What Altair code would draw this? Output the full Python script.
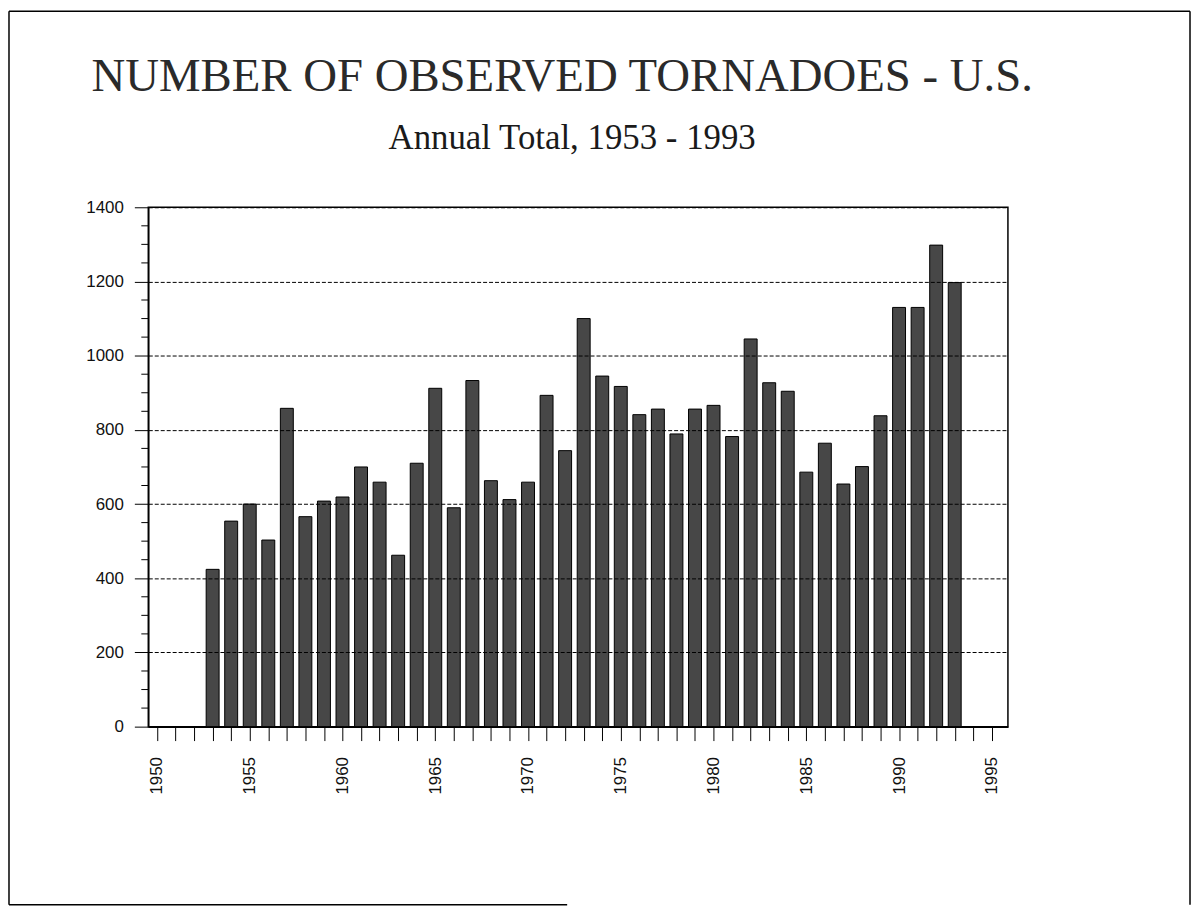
import altair as alt
import pandas as pd

# ---- data ----
years = list(range(1953, 1994))
tornadoes = [424, 554, 600, 503, 858, 566, 608, 619, 700, 659,
             462, 710, 912, 590, 933, 663, 612, 659, 893, 744,
             1100, 945, 917, 841, 856, 789, 856, 866, 782, 1045,
             927, 904, 686, 764, 654, 701, 838, 1130, 1130, 1298,
             1197]
y_major = [0, 200, 400, 600, 800, 1000, 1200, 1400]
y_minor = [v for v in range(50, 1400, 50) if v % 200 != 0]
x_ticks = list(range(1950, 1996))

title_text = "NUMBER OF OBSERVED TORNADOES  - U.S."
subtitle_text = "Annual Total, 1953 - 1993"

df = pd.DataFrame({"year": years, "count": tornadoes})
minor_df = pd.DataFrame({"v": y_minor})
one = pd.DataFrame({"a": [0]})

W, H = 864, 522
sans = "Liberation Sans"
serif = "Liberation Serif"

x_scale = alt.Scale(domain=[1949.8, 1995.6], nice=False, zero=False)
y_scale = alt.Scale(domain=[0, 1400], nice=False)

bars = alt.Chart(df).mark_bar(
    size=13, color="#474747", stroke="#000000", strokeWidth=1
).encode(
    x=alt.X("year:Q", scale=x_scale, title=None,
            axis=alt.Axis(values=x_ticks, format="d",
                          labelExpr="datum.value % 5 == 0 ? datum.label : ''",
                          labelAngle=270, labelPadding=16, tickSize=14,
                          grid=False, labelFlush=False, labelOverlap=False,
                          labelFont=sans, labelFontSize=17, labelColor="#111",
                          domainColor="#000", domainWidth=1.5,
                          tickColor="#000", tickWidth=1)),
    y=alt.Y("count:Q", scale=y_scale, title=None,
            axis=alt.Axis(values=y_major, format="d", tickSize=14,
                          labelPadding=11, zindex=1,
                          grid=True, gridDash=[4, 2], gridColor="#000",
                          gridWidth=1, labelFlush=False,
                          labelFont=sans, labelFontSize=17, labelColor="#111",
                          domainColor="#000", domainWidth=1.5,
                          tickColor="#000", tickWidth=1)),
)

minor = alt.Chart(minor_df).mark_rule(color="#000", strokeWidth=1).encode(
    y=alt.Y("v:Q", scale=y_scale),
    x=alt.value(-7), x2=alt.value(0),
)

def rule(**kw):
    return alt.Chart(one).mark_rule(color="#000", strokeWidth=1.5).encode(**kw)

frame = [
    rule(x=alt.value(-140), y=alt.value(-197), y2=alt.value(701)),
    rule(x=alt.value(-140), x2=alt.value(1047), y=alt.value(-197)),
    rule(x=alt.value(1047), y=alt.value(-197), y2=alt.value(701)),
    rule(x=alt.value(-140), x2=alt.value(421), y=alt.value(701)),
]

title = alt.Chart(one).mark_text(
    text=title_text, font=serif, fontSize=47, align="center",
    baseline="alphabetic", color="#2a2a2a"
).encode(x=alt.value(416), y=alt.value(-117))

subtitle = alt.Chart(one).mark_text(
    text=subtitle_text, font=serif, fontSize=35, align="center",
    baseline="alphabetic", color="#1a1a1a"
).encode(x=alt.value(426), y=alt.value(-59))

chart = alt.layer(bars, minor, *frame, title, subtitle).properties(
    width=W, height=H,
    background="white",
    autosize=alt.AutoSizeParams(type="none"),
    padding={"left": 141, "top": 198, "right": 184, "bottom": 180},
).configure_view(stroke="#000", strokeWidth=1.5)

chart.save("out.html", embed_options={"renderer": "svg", "actions": False})
